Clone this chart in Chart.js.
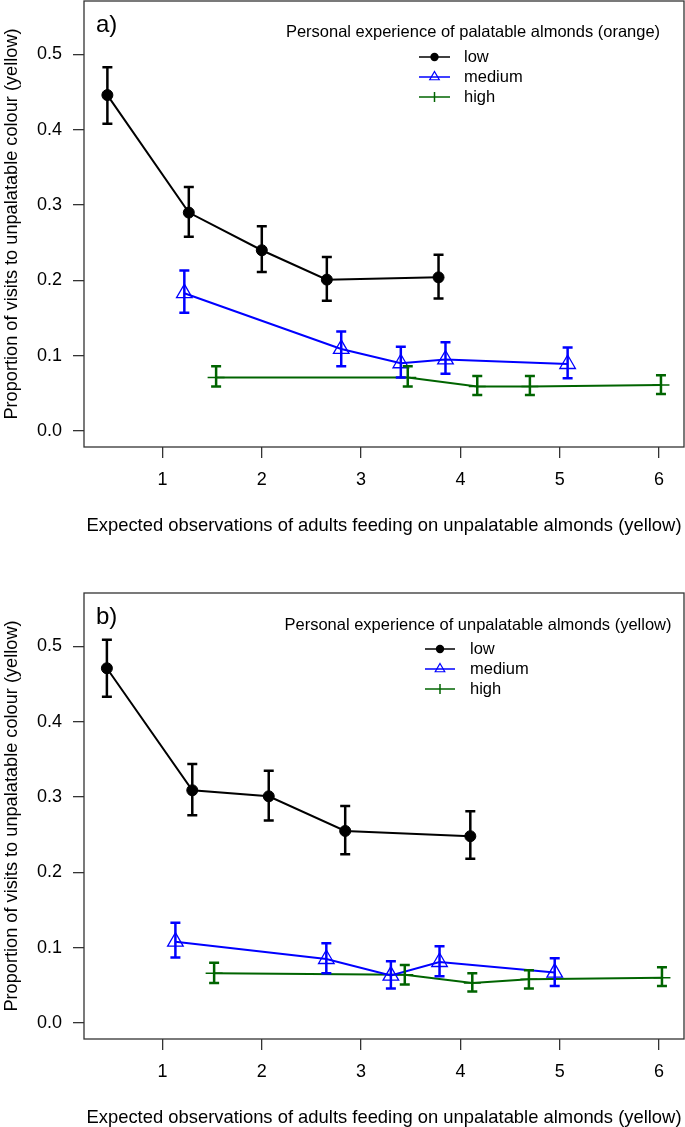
<!DOCTYPE html>
<html>
<head>
<meta charset="utf-8">
<script src="https://cdn.jsdelivr.net/npm/chart.js@4.4.0/dist/chart.umd.min.js"></script>
<style>
html, body { margin: 0; padding: 0; overflow: hidden; background: #fff; }
canvas { display: block; }
</style>
</head>
<body>
<canvas id="chartA" width="685" height="592"></canvas>
<canvas id="chartB" width="685" height="592"></canvas>
<script>
var seriesNames = ['low', 'medium', 'high'];
var xTicks = [1, 2, 3, 4, 5, 6];
var yTicks = [0, 0.1, 0.2, 0.3, 0.4, 0.5];
var yTickLabels = ['0.0', '0.1', '0.2', '0.3', '0.4', '0.5'];
var xTitle = 'Expected observations of adults feeding on unpalatable almonds (yellow)';
var yTitle = 'Proportion of visits to unpalatable colour (yellow)';

// panel a) - palatable almonds (orange)
var legendTitleA = 'Personal experience of palatable almonds (orange)';
var lowXA = [0.445, 1.265, 2.00, 2.655, 3.78];
var lowYA = [0.446, 0.290, 0.240, 0.201, 0.204];
var lowLoA = [0.408, 0.258, 0.211, 0.173, 0.176];
var lowHiA = [0.483, 0.324, 0.272, 0.231, 0.234];
var medXA = [1.22, 2.80, 3.40, 3.85, 5.08];
var medYA = [0.183, 0.109, 0.090, 0.095, 0.089];
var medLoA = [0.157, 0.086, 0.071, 0.076, 0.070];
var medHiA = [0.213, 0.132, 0.112, 0.118, 0.111];
var highXA = [1.54, 3.47, 4.17, 4.70, 6.02];
var highYA = [0.071, 0.071, 0.059, 0.059, 0.061];
var highLoA = [0.059, 0.059, 0.048, 0.048, 0.049];
var highHiA = [0.086, 0.086, 0.073, 0.073, 0.074];

// panel b) - unpalatable almonds (yellow)
var legendTitleB = 'Personal experience of unpalatable almonds (yellow)';
var lowXB = [0.44, 1.30, 2.07, 2.84, 4.10];
var lowYB = [0.471, 0.309, 0.301, 0.255, 0.248];
var lowLoB = [0.433, 0.276, 0.269, 0.224, 0.218];
var lowHiB = [0.509, 0.344, 0.335, 0.288, 0.281];
var medXB = [1.13, 2.65, 3.30, 3.79, 4.95];
var medYB = [0.108, 0.085, 0.063, 0.081, 0.067];
var medLoB = [0.087, 0.066, 0.046, 0.062, 0.049];
var medHiB = [0.133, 0.106, 0.082, 0.102, 0.086];
var highXB = [1.52, 3.44, 4.12, 4.69, 6.03];
var highYB = [0.066, 0.064, 0.053, 0.058, 0.060];
var highLoB = [0.053, 0.051, 0.042, 0.046, 0.049];
var highHiB = [0.080, 0.077, 0.066, 0.070, 0.074];

var colours = ['#000000', '#0000ff', '#006400'];
var FONT = '"Liberation Sans", Arial, sans-serif';

Chart.defaults.color = '#000';
Chart.defaults.font.family = FONT;

function pts(xs, ys) {
	var out = [];
	for (var i = 0; i < xs.length; i++) out.push({x: xs[i], y: ys[i]});
	return out;
}

function makeSets(lx, ly, llo, lhi, mx, my, mlo, mhi, hx, hy, hlo, hhi) {
	return [
		{label: seriesNames[0], data: pts(lx, ly), errLo: llo, errHi: lhi,
			borderColor: colours[0], backgroundColor: colours[0], borderWidth: 2,
			pointStyle: 'circle', pointRadius: 5.5, pointBackgroundColor: colours[0], pointBorderWidth: 1},
		{label: seriesNames[1], data: pts(mx, my), errLo: mlo, errHi: mhi,
			borderColor: colours[1], backgroundColor: 'rgba(0,0,0,0)', borderWidth: 2,
			pointStyle: 'triangle', pointRadius: 9, pointBorderWidth: 1.3},
		{label: seriesNames[2], data: pts(hx, hy), errLo: hlo, errHi: hhi,
			borderColor: colours[2], backgroundColor: colours[2], borderWidth: 2,
			pointStyle: 'cross', pointRadius: 8.5, pointBorderWidth: 1.5}
	];
}

var errorBars = {
	id: 'errorBars',
	afterDatasetsDraw: function(chart) {
		var ctx = chart.ctx, xs = chart.scales.x, ys = chart.scales.y;
		chart.data.datasets.forEach(function(ds) {
			ctx.save();
			ctx.strokeStyle = ds.borderColor;
			ctx.lineWidth = 2.5;
			ds.data.forEach(function(p, i) {
				var px = xs.getPixelForValue(p.x);
				var t = ys.getPixelForValue(ds.errHi[i]);
				var b = ys.getPixelForValue(ds.errLo[i]);
				ctx.beginPath();
				ctx.moveTo(px, t); ctx.lineTo(px, b);
				ctx.moveTo(px - 5, t); ctx.lineTo(px + 5, t);
				ctx.moveTo(px - 5, b); ctx.lineTo(px + 5, b);
				ctx.stroke();
			});
			ctx.restore();
		});
	}
};

var frame = {
	id: 'frame',
	afterDraw: function(chart, args, opts) {
		var ctx = chart.ctx, a = chart.chartArea;
		ctx.save();
		ctx.strokeStyle = '#333';
		ctx.lineWidth = 1.3;
		ctx.strokeRect(a.left, a.top, a.right - a.left, a.bottom - a.top);

		// panel letter
		ctx.fillStyle = '#000';
		ctx.font = '24px ' + FONT;
		ctx.textBaseline = 'middle';
		ctx.textAlign = 'left';
		ctx.fillText(opts.letter, 96, 25);

		// legend
		var L = opts.legend;
		ctx.font = '16.5px ' + FONT;
		ctx.textAlign = 'center';
		ctx.fillText(opts.title, L.titleX, L.titleY);
		ctx.textAlign = 'left';
		seriesNames.forEach(function(name, i) {
			var y = L.y0 + i * 20;
			var mx = (L.x0 + L.x1) / 2;
			ctx.strokeStyle = colours[i];
			ctx.fillStyle = colours[i];
			ctx.lineWidth = 1.5;
			ctx.beginPath();
			ctx.moveTo(L.x0, y); ctx.lineTo(L.x1, y);
			ctx.stroke();
			ctx.beginPath();
			if (i === 0) {
				ctx.arc(mx, y, 4.2, 0, Math.PI * 2);
				ctx.fill();
			} else if (i === 1) {
				ctx.lineWidth = 1.2;
				ctx.moveTo(mx, y - 5.5);
				ctx.lineTo(mx + 5.5 * 0.866, y + 2.75);
				ctx.lineTo(mx - 5.5 * 0.866, y + 2.75);
				ctx.closePath();
				ctx.stroke();
			} else {
				ctx.moveTo(mx, y - 5); ctx.lineTo(mx, y + 5);
				ctx.stroke();
			}
			ctx.fillStyle = '#000';
			ctx.fillText(name, L.tx, y);
		});
		ctx.restore();
	}
};

function makeChart(id, sets, letter, title, legendPos) {
	return new Chart(document.getElementById(id), {
		type: 'scatter',
		data: {datasets: sets},
		plugins: [errorBars, frame],
		options: {
			responsive: false,
			animation: false,
			layout: {autoPadding: false, padding: {top: 1, right: 1, left: 0, bottom: 0}},
			plugins: {
				legend: {display: false},
				tooltip: {enabled: false},
				frame: {letter: letter, title: title, legend: legendPos}
			},
			elements: {line: {tension: 0}},
			datasets: {scatter: {showLine: true}},
			scales: {
				x: {
					type: 'linear', min: 0.2095, max: 6.252,
					afterBuildTicks: function(ax) { ax.ticks = xTicks.map(function(v) { return {value: v}; }); },
					afterFit: function(ax) { ax.height = 145; ax.paddingLeft = 0; ax.paddingRight = 0; },
					ticks: {font: {size: 18}, padding: 11, maxRotation: 0, autoSkip: false,
						callback: function(v) { return String(v); }},
					grid: {drawOnChartArea: false, drawTicks: true, tickLength: 11, color: '#333', lineWidth: 1.3},
					border: {display: false},
					title: {display: true, text: xTitle, font: {size: 18.4}, padding: {top: 0, bottom: 55.3}}
				},
				y: {
					type: 'linear', min: -0.0212, max: 0.5709,
					afterBuildTicks: function(ax) { ax.ticks = yTicks.map(function(v) { return {value: v}; }); },
					afterFit: function(ax) { ax.width = 84; ax.paddingTop = 0; ax.paddingBottom = 0; },
					ticks: {font: {size: 18}, padding: 11, autoSkip: false,
						callback: function(v, i) { return yTickLabels[i]; }},
					grid: {drawOnChartArea: false, drawTicks: true, tickLength: 11, color: '#333', lineWidth: 1.3},
					border: {display: false},
					title: {display: true, text: yTitle, font: {size: 18.2}, padding: {top: 1.1, bottom: 0}}
				}
			}
		}
	});
}

makeChart('chartA',
	makeSets(lowXA, lowYA, lowLoA, lowHiA, medXA, medYA, medLoA, medHiA, highXA, highYA, highLoA, highHiA),
	'a)', legendTitleA, {titleX: 473, titleY: 32, x0: 419, x1: 450, tx: 464, y0: 57});
makeChart('chartB',
	makeSets(lowXB, lowYB, lowLoB, lowHiB, medXB, medYB, medLoB, medHiB, highXB, highYB, highLoB, highHiB),
	'b)', legendTitleB, {titleX: 478, titleY: 33, x0: 425, x1: 455, tx: 470, y0: 57});
</script>
</body>
</html>
